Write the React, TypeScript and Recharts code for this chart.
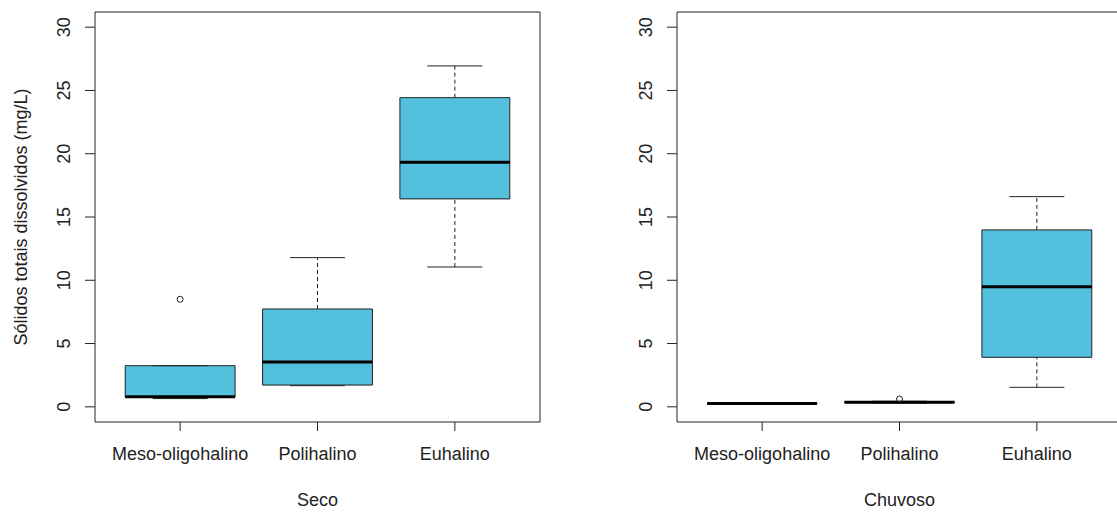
import React from "react";
import {
  ComposedChart,
  XAxis,
  YAxis,
  Scatter,
  ReferenceArea,
  ReferenceLine,
} from "recharts";

const categories = ["Meso-oligohalino", "Polihalino", "Euhalino"];
const yTicks = [0, 5, 10, 15, 20, 25, 30];

// Seco (dry season)
const secoLower = [0.65, 1.67, 11.05];
const secoQ1 = [0.76, 1.72, 16.43];
const secoMedian = [0.8, 3.54, 19.33];
const secoQ3 = [3.25, 7.73, 24.43];
const secoUpper = [3.25, 11.79, 26.94];
const secoOutliers = [{ x: 1, y: 8.5 }];

// Chuvoso (rainy season)
const chuvosoLower = [0.22, 0.3, 1.54];
const chuvosoQ1 = [0.24, 0.33, 3.91];
const chuvosoMedian = [0.26, 0.37, 9.49];
const chuvosoQ3 = [0.28, 0.41, 13.98];
const chuvosoUpper = [0.3, 0.44, 16.61];
const chuvosoOutliers = [{ x: 2, y: 0.62 }];

const X_DOMAIN: [number, number] = [0.38, 3.62];
const Y_DOMAIN: [number, number] = [-1.2, 31.2];
const BOX_FILL = "#53C0DD";
const INK = "#222";
const FONT = "'Liberation Sans', Arial, sans-serif";
const FONT_SIZE = 18;

interface BoxStats {
  lower: number[];
  q1: number[];
  median: number[];
  q3: number[];
  upper: number[];
}

const XTick = (props: any) => {
  const { x, y, payload } = props;
  return (
    <text
      x={x}
      y={y}
      dy="0.71em"
      textAnchor="middle"
      fill={INK}
      fontSize={FONT_SIZE}
      fontFamily={FONT}
    >
      {categories[payload.value - 1]}
    </text>
  );
};

const YTick = (props: any) => {
  const { x, y, payload } = props;
  return (
    <text
      transform={`translate(${x}, ${y}) rotate(-90)`}
      dy="0.36em"
      textAnchor="middle"
      fill={INK}
      fontSize={FONT_SIZE}
      fontFamily={FONT}
    >
      {payload.value}
    </text>
  );
};

const XTitle = (props: any) => {
  const { viewBox, text } = props;
  return (
    <text
      x={viewBox.x + viewBox.width / 2}
      y={viewBox.y + 84}
      textAnchor="middle"
      fill={INK}
      fontSize={FONT_SIZE}
      fontFamily={FONT}
    >
      {text}
    </text>
  );
};

const YTitle = (props: any) => {
  const { viewBox, text } = props;
  const cy = viewBox.y + viewBox.height / 2;
  return (
    <text
      transform={`translate(${viewBox.x + 21}, ${cy}) rotate(-90)`}
      dy="0.36em"
      textAnchor="middle"
      fill={INK}
      fontSize={FONT_SIZE}
      fontFamily={FONT}
    >
      {text}
    </text>
  );
};

const Outlier = (props: any) => {
  const { cx, cy } = props;
  return <circle cx={cx} cy={cy} r={3} fill="none" stroke={INK} strokeWidth={1} />;
};

function boxElements(stats: BoxStats, prefix: string) {
  const els: React.ReactNode[] = [];
  categories.forEach((_, i) => {
    const x = i + 1;
    const lo = stats.lower[i];
    const q1 = stats.q1[i];
    const med = stats.median[i];
    const q3 = stats.q3[i];
    const hi = stats.upper[i];
    els.push(
      <ReferenceLine
        key={`${prefix}-wu-${i}`}
        segment={[{ x, y: q3 }, { x, y: hi }]}
        stroke={INK}
        strokeDasharray="4 3"
      />,
      <ReferenceLine
        key={`${prefix}-wl-${i}`}
        segment={[{ x, y: lo }, { x, y: q1 }]}
        stroke={INK}
        strokeDasharray="4 3"
      />,
      <ReferenceLine
        key={`${prefix}-cu-${i}`}
        segment={[{ x: x - 0.2, y: hi }, { x: x + 0.2, y: hi }]}
        stroke={INK}
      />,
      <ReferenceLine
        key={`${prefix}-cl-${i}`}
        segment={[{ x: x - 0.2, y: lo }, { x: x + 0.2, y: lo }]}
        stroke={INK}
      />,
      <ReferenceArea
        key={`${prefix}-box-${i}`}
        x1={x - 0.4}
        x2={x + 0.4}
        y1={q1}
        y2={q3}
        fill={BOX_FILL}
        fillOpacity={1}
        stroke={INK}
        strokeWidth={1}
      />,
      <ReferenceLine
        key={`${prefix}-med-${i}`}
        segment={[{ x: x - 0.4, y: med }, { x: x + 0.4, y: med }]}
        stroke="#000"
        strokeWidth={3}
      />
    );
  });
  return els;
}

const Panel = ({
  stats,
  outliers,
  title,
  yTitle,
}: {
  stats: BoxStats;
  outliers: { x: number; y: number }[];
  title: string;
  yTitle?: string;
}) => (
  <ComposedChart
    width={555}
    height={513}
    margin={{ top: 12, right: 15, bottom: 0, left: 0 }}
  >
    <XAxis
      type="number"
      dataKey="x"
      domain={X_DOMAIN}
      ticks={[1, 2, 3]}
      allowDataOverflow
      axisLine={false}
      tickSize={9}
      tickMargin={16}
      tickLine={{ stroke: INK }}
      tick={<XTick />}
      height={91}
      label={<XTitle text={title} />}
    />
    <YAxis
      type="number"
      dataKey="y"
      domain={Y_DOMAIN}
      ticks={yTicks}
      allowDataOverflow
      axisLine={false}
      tickSize={10}
      tickMargin={21}
      tickLine={{ stroke: INK }}
      tick={<YTick />}
      width={95}
      label={yTitle ? <YTitle text={yTitle} /> : undefined}
    />
    <ReferenceArea
      x1={X_DOMAIN[0]}
      x2={X_DOMAIN[1]}
      y1={Y_DOMAIN[0]}
      y2={Y_DOMAIN[1]}
      fill="none"
      stroke={INK}
      strokeWidth={1}
    />
    {boxElements(stats, title)}
    <Scatter
      data={outliers}
      dataKey="y"
      shape={<Outlier />}
      isAnimationActive={false}
    />
  </ComposedChart>
);

export default function App() {
  return (
    <div
      style={{
        position: "absolute",
        left: 0,
        top: 0,
        width: 1117,
        height: 513,
        overflow: "hidden",
        background: "#fff",
      }}
    >
      <div style={{ position: "absolute", left: 0, top: 0 }}>
        <Panel
          stats={{
            lower: secoLower,
            q1: secoQ1,
            median: secoMedian,
            q3: secoQ3,
            upper: secoUpper,
          }}
          outliers={secoOutliers}
          title="Seco"
          yTitle="Sólidos totais dissolvidos (mg/L)"
        />
      </div>
      <div style={{ position: "absolute", left: 582, top: 0 }}>
        <Panel
          stats={{
            lower: chuvosoLower,
            q1: chuvosoQ1,
            median: chuvosoMedian,
            q3: chuvosoQ3,
            upper: chuvosoUpper,
          }}
          outliers={chuvosoOutliers}
          title="Chuvoso"
        />
      </div>
    </div>
  );
}
